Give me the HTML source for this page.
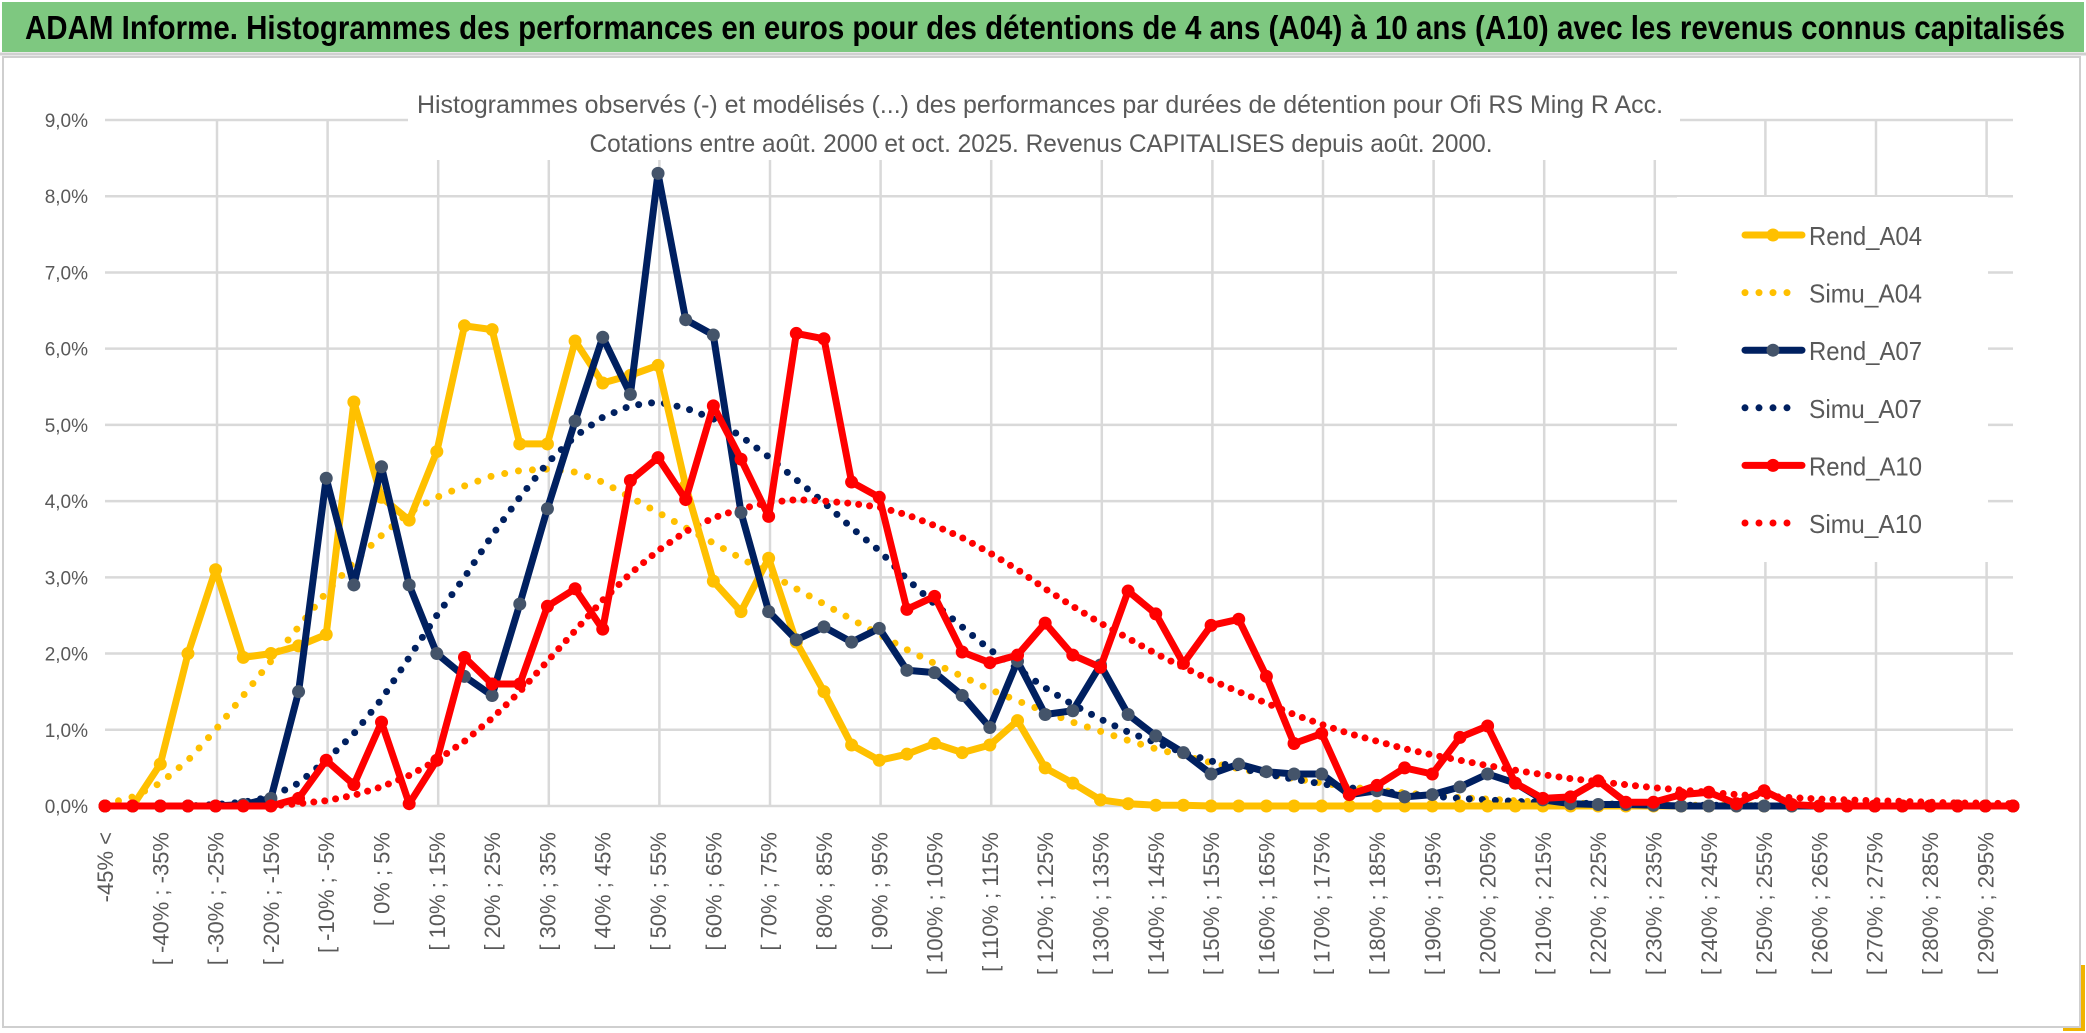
<!DOCTYPE html>
<html><head><meta charset="utf-8">
<style>
html,body{margin:0;padding:0;background:#fff;}
body{width:2086px;height:1033px;overflow:hidden;font-family:"Liberation Sans",sans-serif;}
svg{display:block}
</style></head>
<body>
<svg id="chart" width="2086" height="1033" viewBox="0 0 2086 1033">
  <rect x="0" y="0" width="2086" height="1033" fill="#fff"/>
  <rect x="2" y="2" width="2082" height="50" fill="#7ec880"/>
  <line x1="0" y1="54" x2="2086" y2="54" stroke="#d0d0d0" stroke-width="3"/>
  <text x="25" y="39" font-size="33" font-weight="bold" fill="#000" textLength="2040" lengthAdjust="spacingAndGlyphs">ADAM Informe. Histogrammes des performances en euros pour des détentions de 4 ans (A04) à 10 ans (A10) avec les revenus connus capitalisés</text>
  <rect x="2063" y="965" width="22" height="66" fill="#f0b400"/>
  <rect x="3" y="57" width="2077" height="970" fill="#fff" stroke="#cfcfcf" stroke-width="2"/>
  <g id="grid"></g>
  <rect x="408" y="60" width="1272" height="100" fill="#fff"/>
  <text x="1040" y="113" font-size="25" fill="#595959" text-anchor="middle" textLength="1246" lengthAdjust="spacingAndGlyphs">Histogrammes observés (-) et modélisés (...) des performances par durées de détention pour Ofi RS Ming R Acc.</text>
  <text x="1041" y="152" font-size="25" fill="#595959" text-anchor="middle" textLength="903" lengthAdjust="spacingAndGlyphs">Cotations entre août. 2000 et oct. 2025. Revenus CAPITALISES depuis août. 2000.</text>
  <rect x="1677" y="197" width="311" height="365" fill="#fff"/>
  <g id="yaxis"></g>
  <g id="xaxis"></g>
  <g id="series"></g>
  <g id="legend"></g>
</svg>
<script>
const yTicks = [0,1,2,3,4,5,6,7,8,9];
const rendA04 = [0,0,0.55,2.0,3.1,1.95,2.0,2.1,2.25,5.3,4.05,3.75,4.65,6.3,6.25,4.75,4.75,6.1,5.55,5.65,5.78,4.2,2.95,2.55,3.25,2.15,1.5,0.8,0.6,0.68,0.82,0.7,0.8,1.12,0.5,0.3,0.08,0.03,0.01,0.01,0,0,0,0,0,0,0,0,0,0,0,0,0,0,0,0,0,0,0,0,0,0,0,0,0,0,0,0,0,0];
const simuA04 = [0.02,0.12,0.3,0.6,1.0,1.45,1.9,2.35,2.8,3.2,3.55,3.85,4.05,4.2,4.33,4.4,4.42,4.38,4.25,4.05,3.85,3.65,3.45,3.25,3.05,2.85,2.65,2.45,2.25,2.05,1.87,1.7,1.53,1.38,1.24,1.1,0.98,0.86,0.75,0.66,0.57,0.49,0.42,0.36,0.3,0.25,0.21,0.17,0.14,0.11,0.09,0.07,0.05,0.04,0.03,0.02,0.02,0.01,0.01,0.01,0,0,0,0,0,0,0,0,0,0];
const rendA07 = [0,0,0,0,0,0.02,0.1,1.5,4.3,2.9,4.45,2.9,2.0,1.7,1.45,2.65,3.9,5.05,6.15,5.4,8.3,6.38,6.18,3.85,2.55,2.18,2.35,2.15,2.33,1.78,1.75,1.45,1.03,1.9,1.2,1.25,1.85,1.2,0.92,0.7,0.42,0.55,0.45,0.42,0.42,0.15,0.2,0.12,0.15,0.25,0.42,0.3,0.08,0.03,0.02,0.02,0.01,0,0,0,0,0,0,0,0,0,0,0,0,0];
const simuA07 = [0,0,0,0,0.02,0.05,0.12,0.3,0.6,0.95,1.4,1.95,2.5,3.0,3.55,4.05,4.5,4.85,5.1,5.25,5.3,5.22,5.08,4.85,4.58,4.28,3.98,3.65,3.35,2.98,2.65,2.35,2.05,1.8,1.55,1.33,1.14,0.97,0.83,0.7,0.59,0.5,0.42,0.35,0.29,0.24,0.2,0.16,0.13,0.1,0.08,0.06,0.05,0.04,0.03,0.02,0.02,0.01,0.01,0.01,0,0,0,0,0,0,0,0,0,0];
const rendA10 = [0,0,0,0,0,0,0,0.1,0.6,0.28,1.1,0.03,0.6,1.95,1.6,1.6,2.62,2.85,2.32,4.27,4.57,4.02,5.25,4.55,3.8,6.2,6.13,4.25,4.05,2.58,2.75,2.02,1.88,1.98,2.4,1.98,1.82,2.82,2.52,1.87,2.37,2.45,1.7,0.82,0.95,0.15,0.27,0.5,0.42,0.9,1.05,0.3,0.1,0.12,0.33,0.05,0.05,0.15,0.18,0.03,0.2,0.02,0,0,0,0,0,0,0,0];
const simuA10 = [0,0,0,0,0,0,0,0.03,0.07,0.14,0.25,0.4,0.6,0.85,1.15,1.5,1.9,2.3,2.7,3.05,3.35,3.6,3.78,3.9,3.98,4.02,4.0,3.97,3.92,3.82,3.68,3.52,3.32,3.1,2.85,2.62,2.4,2.2,2.0,1.82,1.65,1.5,1.35,1.2,1.07,0.95,0.85,0.75,0.67,0.6,0.53,0.47,0.41,0.36,0.32,0.28,0.24,0.21,0.18,0.15,0.13,0.11,0.09,0.08,0.07,0.06,0.05,0.04,0.04,0.03];
const nCats = 70;
const categories = [];
for (let k = 0; k < nCats; k++) {
  categories.push(k === 0 ? '-45% <' : '[ ' + (-50 + 5*k) + '% ; ' + (-45 + 5*k) + '%');
}
const NS = 'http://www.w3.org/2000/svg';
const X0 = 105, X1 = 2013, Y0 = 806, Y1 = 120;
function xs(k){ return X0 + k * (X1 - X0) / (nCats - 1); }
function ys(v){ return Y0 - (v / 9) * (Y0 - Y1); }
function mk(tag, attrs, parent){ const e = document.createElementNS(NS, tag); for (const a in attrs) e.setAttribute(a, attrs[a]); parent.appendChild(e); return e; }

const grid = document.getElementById('grid');
yTicks.forEach(t => {
  const l = mk('line', {x1:X0, x2:X1, y1:ys(t), y2:ys(t), stroke:'#d9d9d9', 'stroke-width':2.5}, grid);
  
  
});
for (let gx = X0 + 112; gx <= X1; gx += 110.6) {
  const l = mk('line', {x1:gx, x2:gx, y1:Y1, y2:Y0, stroke:'#d9d9d9', 'stroke-width':2.5}, grid);
  
  
}
const yax = document.getElementById('yaxis');
yTicks.forEach(t => {
  const tx = mk('text', {x:88, y:ys(t)+7, 'font-size':19, fill:'#595959', 'text-anchor':'end'}, yax);
  tx.textContent = t.toFixed(1).replace('.', ',') + '%';
  
  
});
const xax = document.getElementById('xaxis');
categories.forEach((c, k) => {
  if (k % 2 !== 0) return;
  const x = xs(k) + 8;
  const tx = mk('text', {x:0, y:0, 'font-size':22, fill:'#595959', 'text-anchor':'end', transform:'translate(' + x + ',832) rotate(-90)'}, xax);
  tx.textContent = c;
  
  
});

const seriesG = document.getElementById('series');
function pts(arr){ return arr.map((v,k) => xs(k).toFixed(1) + ',' + ys(v).toFixed(1)).join(' '); }
function dotted(arr, color, name, gap){
  const p = mk('polyline', {points:pts(arr), fill:'none', stroke:color, 'stroke-width':7, 'stroke-linecap':'round', 'stroke-dasharray':'0 ' + gap}, seriesG);
  
  
}
function solid(arr, color, mcolor, name){
  const p = mk('polyline', {points:pts(arr), fill:'none', stroke:color, 'stroke-width':7, 'stroke-linejoin':'round'}, seriesG);
  
  
  arr.forEach((v,k) => {
    const c = mk('circle', {cx:xs(k), cy:ys(v), r:6.5, fill:mcolor}, seriesG);
    
    
  });
}
dotted(simuA04, '#ffc000', 'simu-a04-line', 14);
dotted(simuA07, '#002060', 'simu-a07-line', 13);
dotted(simuA10, '#ff0000', 'simu-a10-line', 11);
solid(rendA04, '#ffc000', '#ffc000', 'rend-a04-line');
solid(rendA07, '#002060', '#44546a', 'rend-a07-line');
solid(rendA10, '#ff0000', '#ff0000', 'rend-a10-line');

const legendItems = [
  ['Rend_A04', '#ffc000', '#ffc000', false],
  ['Simu_A04', '#ffc000', '#ffc000', true],
  ['Rend_A07', '#002060', '#44546a', false],
  ['Simu_A07', '#002060', '#002060', true],
  ['Rend_A10', '#ff0000', '#ff0000', false],
  ['Simu_A10', '#ff0000', '#ff0000', true]
];
const lg = document.getElementById('legend');
legendItems.forEach((it, i) => {
  const y = 235 + i * 57.6;
  const g = mk('g', {}, lg);
  
  
  if (it[3]) {
    mk('line', {x1:1745, x2:1800, y1:y, y2:y, stroke:it[1], 'stroke-width':7, 'stroke-linecap':'round', 'stroke-dasharray':'0 14'}, g);
  } else {
    mk('line', {x1:1745, x2:1802, y1:y, y2:y, stroke:it[1], 'stroke-width':7, 'stroke-linecap':'round'}, g);
    mk('circle', {cx:1773, cy:y, r:6.5, fill:it[2]}, g);
  }
  const t = mk('text', {x:1809, y:y+10, 'font-size':26, fill:'#595959', textLength:113, lengthAdjust:'spacingAndGlyphs'}, g);
  t.textContent = it[0];
});
</script>
</body></html>
